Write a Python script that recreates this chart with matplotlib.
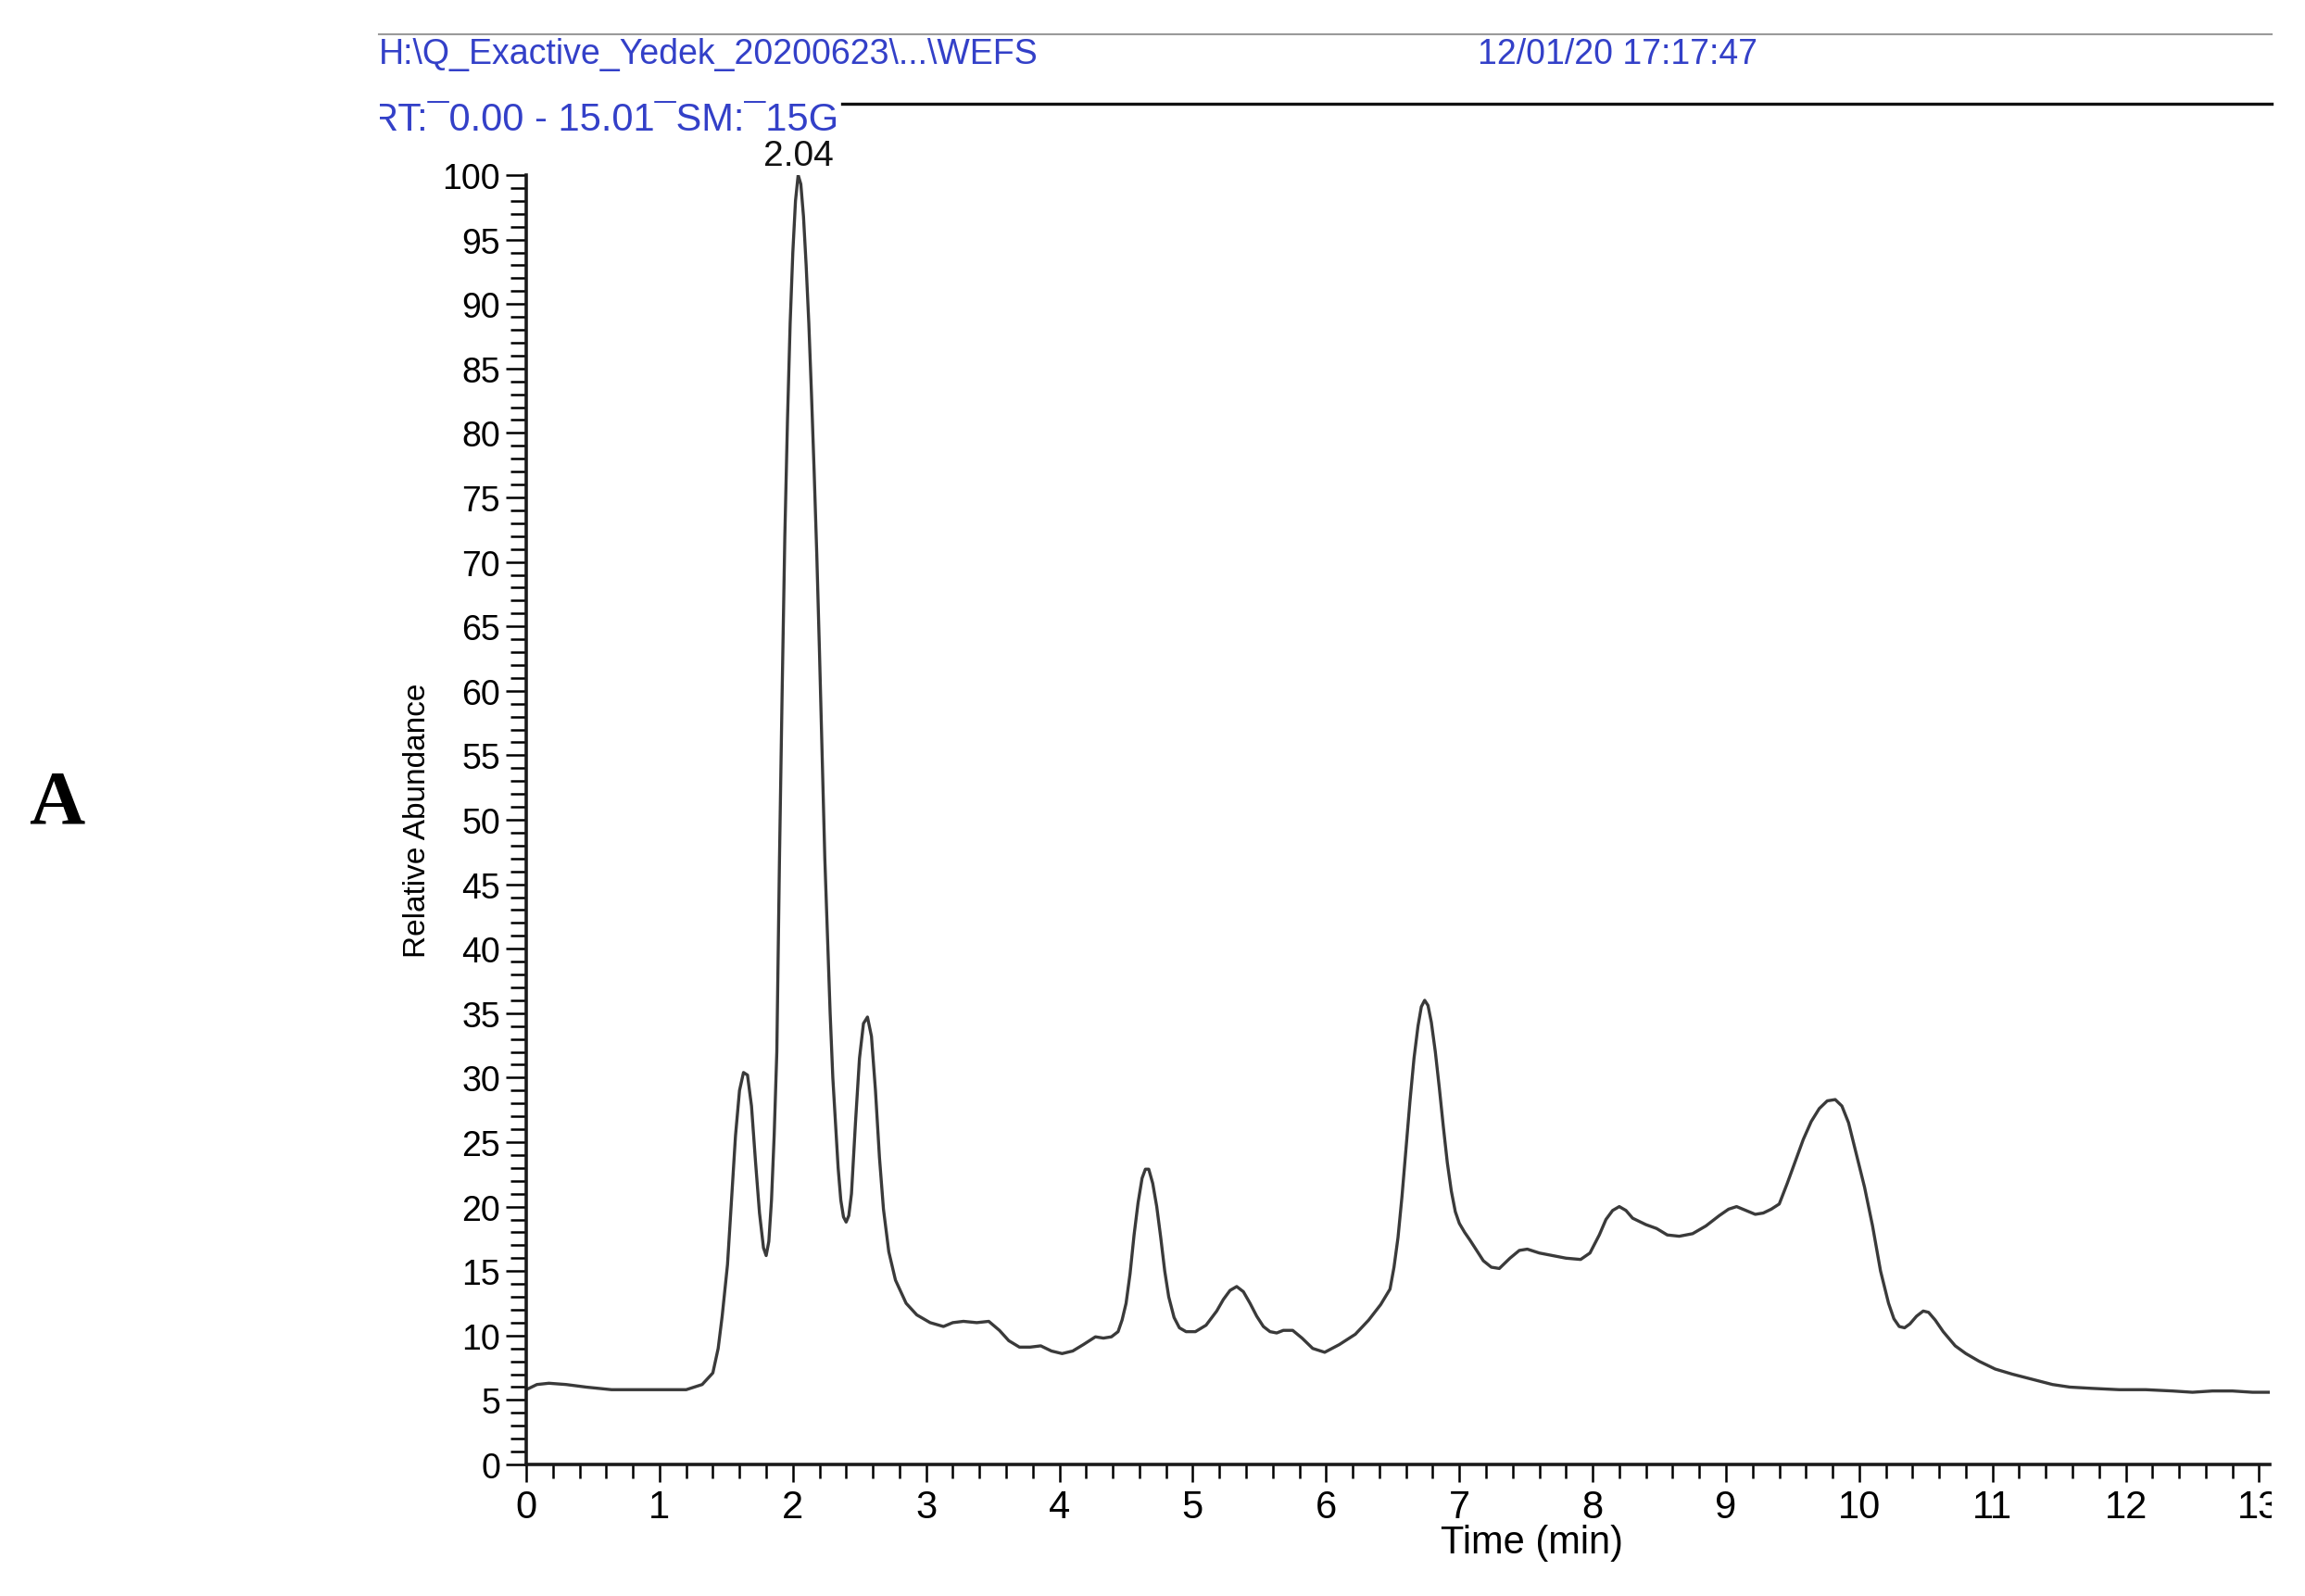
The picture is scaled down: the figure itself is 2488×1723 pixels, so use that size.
import matplotlib
matplotlib.use("Agg")
import matplotlib.pyplot as plt
from matplotlib.ticker import MultipleLocator
from matplotlib.transforms import Bbox, TransformedBbox

plt.rcParams["font.family"] = ["Liberation Sans", "DejaVu Sans"]

# chromatogram (time in min, relative abundance in %)
rt_min = [
    0.00, 0.08, 0.17, 0.30, 0.45, 0.64, 0.90, 1.20, 1.32, 1.40,
    1.44, 1.47, 1.51, 1.54, 1.57, 1.60, 1.63, 1.66, 1.69, 1.72,
    1.75, 1.78, 1.80, 1.82, 1.84, 1.86, 1.88, 1.90, 1.92, 1.94,
    1.96, 1.98, 2.00, 2.02, 2.04, 2.06, 2.08, 2.10, 2.12, 2.14,
    2.16, 2.18, 2.20, 2.22, 2.24, 2.26, 2.28, 2.30, 2.32, 2.34,
    2.36, 2.38, 2.40, 2.42, 2.44, 2.47, 2.50, 2.53, 2.56, 2.59,
    2.62, 2.65, 2.68, 2.72, 2.77, 2.85, 2.93, 3.03, 3.13, 3.20,
    3.28, 3.38, 3.47, 3.55, 3.62, 3.70, 3.78, 3.86, 3.94, 4.02,
    4.10, 4.18, 4.27, 4.33, 4.39, 4.44, 4.47, 4.50, 4.53, 4.56,
    4.59, 4.62, 4.645, 4.67, 4.70, 4.73, 4.76, 4.79, 4.82, 4.86,
    4.90, 4.95, 5.02, 5.10, 5.18, 5.23, 5.28, 5.33, 5.38, 5.43,
    5.48, 5.53, 5.58, 5.63, 5.68, 5.75, 5.82, 5.90, 5.99, 6.10,
    6.22, 6.32, 6.41, 6.48, 6.51, 6.54, 6.57, 6.60, 6.63, 6.66,
    6.69, 6.715, 6.74, 6.765, 6.79, 6.82, 6.85, 6.88, 6.91, 6.94,
    6.97, 7.00, 7.04, 7.08, 7.13, 7.18, 7.24, 7.30, 7.38, 7.45,
    7.51, 7.60, 7.70, 7.80, 7.91, 7.98, 8.05, 8.10, 8.15, 8.20,
    8.25, 8.30, 8.40, 8.48, 8.56, 8.65, 8.75, 8.85, 8.95, 9.02,
    9.08, 9.15, 9.22, 9.28, 9.34, 9.40, 9.46, 9.52, 9.58, 9.64,
    9.70, 9.76, 9.82, 9.87, 9.92, 9.98, 10.04, 10.10, 10.16, 10.22,
    10.26, 10.30, 10.34, 10.38, 10.43, 10.48, 10.52, 10.57, 10.63, 10.72,
    10.80, 10.90, 11.02, 11.15, 11.30, 11.45, 11.58, 11.75, 11.95, 12.15,
    12.35, 12.50, 12.65, 12.80, 12.95, 13.08,
]
abundance = [
    5.8, 6.2, 6.3, 6.2, 6.0, 5.8, 5.8, 5.8, 6.2, 7.1,
    9.0, 11.5, 15.5, 20.5, 25.5, 29.0, 30.4, 30.2, 27.8, 23.5,
    19.5, 16.8, 16.2, 17.3, 20.5, 25.5, 32.0, 47.0, 60.0, 72.0,
    81.0, 88.5, 94.0, 98.0, 100.0, 99.3, 96.8, 93.0, 88.5, 83.0,
    77.0, 70.5, 63.0, 55.0, 47.0, 41.0, 35.0, 30.0, 26.5, 23.0,
    20.5, 19.2, 18.8, 19.3, 21.0, 26.5, 31.5, 34.2, 34.7, 33.2,
    29.0, 23.8, 19.8, 16.5, 14.3, 12.5, 11.6, 11.0, 10.7, 11.0,
    11.1, 11.0, 11.1, 10.4, 9.6, 9.1, 9.1, 9.2, 8.8, 8.6,
    8.8, 9.3, 9.9, 9.8, 9.9, 10.3, 11.2, 12.5, 14.8, 17.8,
    20.3, 22.2, 22.9, 22.9, 21.8, 20.0, 17.6, 15.0, 13.0, 11.4,
    10.6, 10.3, 10.3, 10.8, 11.9, 12.8, 13.5, 13.8, 13.4, 12.5,
    11.5, 10.7, 10.3, 10.2, 10.4, 10.4, 9.8, 9.0, 8.7, 9.3,
    10.1, 11.2, 12.4, 13.6, 15.3, 17.6, 20.8, 24.5, 28.2, 31.5,
    34.0, 35.5, 36.0, 35.6, 34.3, 32.0, 29.2, 26.2, 23.4, 21.2,
    19.6, 18.7, 18.0, 17.4, 16.6, 15.8, 15.3, 15.2, 16.0, 16.6,
    16.7, 16.4, 16.2, 16.0, 15.9, 16.4, 17.8, 19.0, 19.7, 20.0,
    19.7, 19.1, 18.6, 18.3, 17.8, 17.7, 17.9, 18.5, 19.3, 19.8,
    20.0, 19.7, 19.4, 19.5, 19.8, 20.2, 21.8, 23.5, 25.2, 26.6,
    27.6, 28.2, 28.3, 27.8, 26.5, 24.0, 21.5, 18.5, 15.0, 12.5,
    11.3, 10.7, 10.6, 10.9, 11.5, 11.9, 11.8, 11.2, 10.3, 9.2,
    8.6, 8.0, 7.4, 7.0, 6.6, 6.2, 6.0, 5.9, 5.8, 5.8,
    5.7, 5.6, 5.7, 5.7, 5.6, 5.6,
]

base_peak_rt = 2.04
header_path = "H:\\Q_Exactive_Yedek_20200623\\...\\WEFS"
header_date = "12/01/20 17:17:47"
header_range = "RT:\u00af0.00 - 15.01\u00afSM:\u00af15G"

W, H = 2488, 1724
fig = plt.figure(figsize=(W / 100, H / 100), dpi=100)
ax = fig.add_axes([568 / W, 1 - 1582 / H, (2450 - 568) / W, (1582 - 190) / H])

ax.plot(rt_min, abundance, color="#3a3a3a", lw=2.4, solid_joinstyle="round")
ax.set_xlim(0, 13.08)
ax.set_ylim(0, 100)

for side in ("top", "right"):
    ax.spines[side].set_visible(False)
for side in ("left", "bottom"):
    ax.spines[side].set_linewidth(2.6)
    ax.spines[side].set_color("#1a1a1a")

ax.xaxis.set_major_locator(MultipleLocator(1))
ax.xaxis.set_minor_locator(MultipleLocator(0.2))
ax.yaxis.set_major_locator(MultipleLocator(5))
ax.yaxis.set_minor_locator(MultipleLocator(1))
ax.tick_params(axis="x", which="major", length=14, width=1.8, pad=5, labelsize=30)
ax.tick_params(axis="x", which="minor", length=11, width=1.8)
ax.tick_params(axis="y", which="major", length=16, width=1.8, pad=4, labelsize=27)
ax.tick_params(axis="y", which="minor", length=12, width=1.8)

ax.set_xlabel("Time (min)", fontsize=30)
ax.xaxis.set_label_coords(0.577, -0.046)
ax.set_ylabel("Relative Abundance", fontsize=24)
ax.yaxis.set_label_coords(-0.054, 0.5)

ax.annotate(f"{base_peak_rt:.2f}", (base_peak_rt, 100), xytext=(0, 2),
            textcoords="offset points", ha="center", va="bottom",
            fontsize=28, color="#111111", annotation_clip=False)

# header block
header_blue = "#3340c8"
fig.add_artist(plt.Line2D([409 / W, 2452 / W], [1 - 38 / H, 1 - 38 / H],
                          color="#9a9a9a", lw=1.5))
fig.add_artist(plt.Line2D([909 / W, 2452 / W], [1 - 113 / H, 1 - 113 / H],
                          color="#111111", lw=2.4))
fig.text(409 / W, 1 - 59 / H, header_path, fontsize=27, color=header_blue,
         ha="left", va="center")
fig.text(1595 / W, 1 - 59 / H, header_date, fontsize=27, color=header_blue,
         ha="left", va="center")
rt_text = fig.text(400 / W, 1 - 130 / H, header_range, fontsize=30,
                   color=header_blue, ha="left", va="center")
rt_text.set_clip_box(TransformedBbox(Bbox.from_extents(410 / W, 0, 1, 1),
                                     fig.transFigure))
rt_text.set_clip_on(True)

fig.text(61 / W, 1 - 869 / H, "A", fontsize=60, fontweight="bold",
         family="Liberation Serif", ha="center", va="center")

# the last x label is cut at the end of the axis like in the instrument print
fig.canvas.draw()
clip = TransformedBbox(Bbox.from_extents(0, 0, 2452 / W, 1), fig.transFigure)
for lab in ax.get_xticklabels():
    lab.set_clip_box(clip)
    lab.set_clip_on(True)

fig.savefig("out.png", dpi=100, facecolor="white")
